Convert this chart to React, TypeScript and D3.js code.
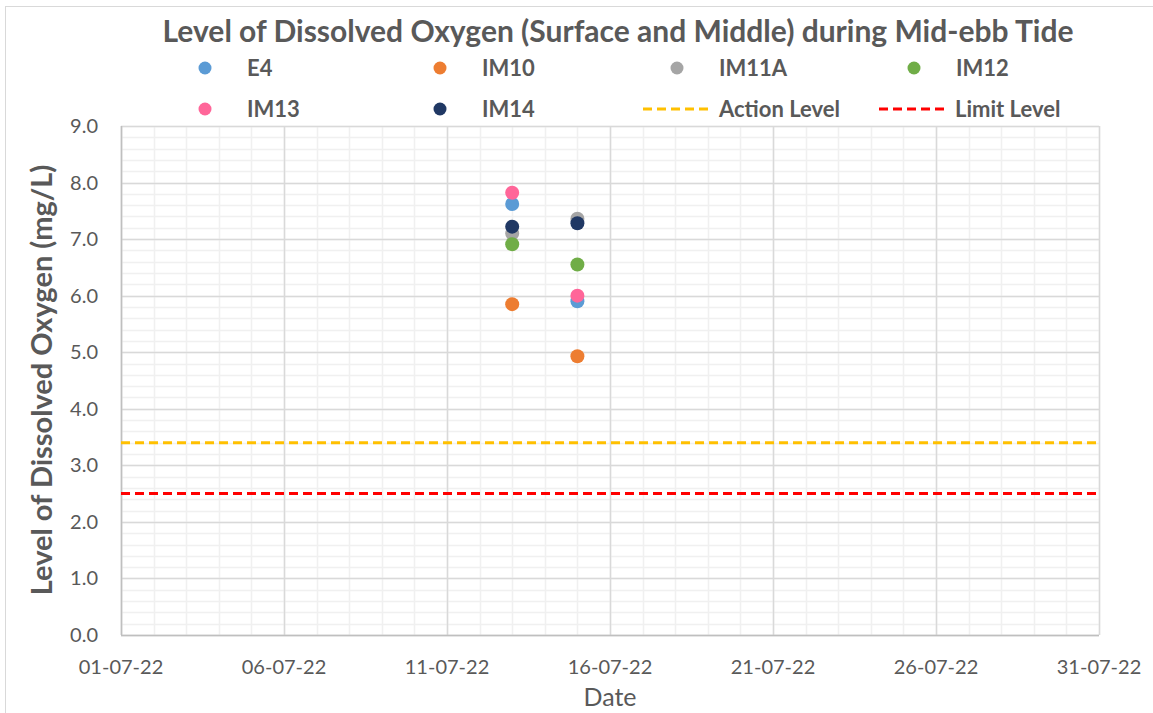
import React, { useRef, useEffect } from "react";
import * as d3 from "d3";

const dates = ["2022-07-13", "2022-07-15"];
const seriesNames = ["E4", "IM10", "IM11A", "IM12", "IM13", "IM14"];
const seriesColors = ["#5B9BD5", "#ED7D31", "#A5A5A5", "#70AD47", "#FF6699", "#203864"];
const e4 = [7.62, 5.9];
const im10 = [5.85, 4.93];
const im11a = [7.1, 7.36];
const im12 = [6.91, 6.55];
const im13 = [7.82, 6.0];
const im14 = [7.22, 7.28];
const seriesValues = [e4, im10, im11a, im12, im13, im14];
const actionLevel = 3.4;
const limitLevel = 2.5;
const yTicks = [0, 1, 2, 3, 4, 5, 6, 7, 8, 9];

const W = 1153;
const H = 713;
const FONT = "Lato, 'Open Sans', sans-serif";
const TXT = "#595959";

const App = () => {
	const svgRef = useRef(null);

	useEffect(() => {
		const svg = d3.select(svgRef.current);
		svg.selectAll("*").remove();

		const left = 121, right = 1099, top = 126, bottom = 635;
		const parse = d3.timeParse("%Y-%m-%d");
		const x = d3
			.scaleTime()
			.domain([parse("2022-07-01"), parse("2022-07-31")])
			.range([left, right]);
		const y = d3.scaleLinear().domain([0, 9]).range([bottom, top]);

		// outer chart border
		svg.append("rect")
			.attr("x", 5.5).attr("y", 6.5)
			.attr("width", W).attr("height", H)
			.attr("fill", "white")
			.attr("stroke", "#D9D9D9");

		const grid = svg.append("g");
		// minor horizontal
		d3.range(0, 9.01, 0.2).forEach((v) => {
			grid.append("line")
				.attr("x1", left).attr("x2", right)
				.attr("y1", Math.round(y(v)) + 0.5).attr("y2", Math.round(y(v)) + 0.5)
				.attr("stroke", "#F0F0F0").attr("stroke-width", 1.5);
		});
		// minor vertical (daily)
		x.ticks(d3.timeDay.every(1)).forEach((d) => {
			grid.append("line")
				.attr("y1", top).attr("y2", bottom)
				.attr("x1", Math.round(x(d)) + 0.5).attr("x2", Math.round(x(d)) + 0.5)
				.attr("stroke", "#F0F0F0").attr("stroke-width", 1.5);
		});
		// major horizontal
		yTicks.forEach((v) => {
			grid.append("line")
				.attr("x1", left).attr("x2", right)
				.attr("y1", Math.round(y(v)) + 0.5).attr("y2", Math.round(y(v)) + 0.5)
				.attr("stroke", "#D9D9D9").attr("stroke-width", 1.5);
		});
		// major vertical every 5 days
		const majorDates = d3.range(1, 32, 5).map((d) => new Date(2022, 6, d));
		majorDates.forEach((d) => {
			grid.append("line")
				.attr("y1", top).attr("y2", bottom)
				.attr("x1", Math.round(x(d)) + 0.5).attr("x2", Math.round(x(d)) + 0.5)
				.attr("stroke", "#D9D9D9").attr("stroke-width", 1.5);
		});
		// axis lines
		grid.append("line")
			.attr("x1", left).attr("x2", right)
			.attr("y1", bottom + 0.5).attr("y2", bottom + 0.5)
			.attr("stroke", "#BFBFBF").attr("stroke-width", 1.5);
		grid.append("line")
			.attr("x1", left + 0.5).attr("x2", left + 0.5)
			.attr("y1", top).attr("y2", bottom)
			.attr("stroke", "#BFBFBF").attr("stroke-width", 1.5);

		// tick labels
		const fmtY = d3.format(".1f");
		svg.append("g")
			.selectAll("text")
			.data(yTicks)
			.join("text")
			.attr("x", 98)
			.attr("y", (d) => y(d))
			.attr("dy", "0.35em")
			.attr("text-anchor", "end")
			.attr("font-family", FONT)
			.attr("font-size", 20)
			.attr("fill", TXT)
			.text((d) => fmtY(d));

		const fmtX = d3.timeFormat("%d-%m-%y");
		svg.append("g")
			.selectAll("text")
			.data(majorDates)
			.join("text")
			.attr("x", (d) => x(d))
			.attr("y", 674)
			.attr("text-anchor", "middle")
			.attr("font-family", FONT)
			.attr("font-size", 20)
			.attr("fill", TXT)
			.text((d) => fmtX(d));

		// axis titles
		svg.append("text")
			.attr("x", 610).attr("y", 706)
			.attr("text-anchor", "middle")
			.attr("font-family", FONT).attr("font-size", 25)
			.attr("fill", TXT)
			.text("Date");
		svg.append("text")
			.attr("transform", `translate(52,${(155 + 605) / 2}) rotate(-90)`)
			.attr("text-anchor", "middle")
			.attr("font-family", FONT).attr("font-size", 29).attr("font-weight", "bold")
			.attr("fill", TXT)
			.text("Level of Dissolved Oxygen (mg/L)");

		// title
		svg.append("text")
			.attr("x", 618).attr("y", 42)
			.attr("text-anchor", "middle")
			.attr("font-family", FONT).attr("font-size", 30).attr("font-weight", "bold")
			.attr("fill", TXT)
			.text("Level of Dissolved Oxygen (Surface and Middle) during Mid-ebb Tide");

		// threshold lines
		const thr = [
			{ v: actionLevel, c: "#FFC000", name: "Action Level" },
			{ v: limitLevel, c: "#FF0000", name: "Limit Level" },
		];
		thr.forEach((t) => {
			svg.append("line")
				.attr("x1", left).attr("x2", right)
				.attr("y1", y(t.v)).attr("y2", y(t.v))
				.attr("stroke", t.c).attr("stroke-width", 3)
				.attr("stroke-dasharray", "9,5");
		});

		// points
		seriesValues.forEach((vals, i) => {
			svg.append("g")
				.selectAll("circle")
				.data(vals)
				.join("circle")
				.attr("cx", (d, j) => x(parse(dates[j])))
				.attr("cy", (d) => y(d))
				.attr("r", 7)
				.attr("fill", seriesColors[i]);
		});

		// legend
		const legendPos = [
			[205, 68], [440, 68], [677, 68], [914, 68],
			[205, 109], [440, 109],
		];
		const lg = svg.append("g")
			.attr("font-family", FONT).attr("font-size", 22).attr("font-weight", "bold")
			.attr("fill", TXT);
		seriesNames.forEach((n, i) => {
			const [lx, ly] = legendPos[i];
			lg.append("circle").attr("cx", lx).attr("cy", ly).attr("r", 6.5).attr("fill", seriesColors[i]);
			lg.append("text").attr("x", lx + 42).attr("y", ly).attr("dy", "0.35em").text(n);
		});
		const thrLegend = [[643, 109], [879, 109]];
		thr.forEach((t, i) => {
			const [lx, ly] = thrLegend[i];
			lg.append("line")
				.attr("x1", lx).attr("x2", lx + 68)
				.attr("y1", ly).attr("y2", ly)
				.attr("stroke", t.c).attr("stroke-width", 3)
				.attr("stroke-dasharray", "9,5");
			lg.append("text").attr("x", lx + 76).attr("y", ly).attr("dy", "0.35em").text(t.name);
		});
	}, []);

	return (
		<svg
			ref={svgRef}
			width={W}
			height={H}
			style={{ position: "absolute", top: 0, left: 0, display: "block" }}
		/>
	);
};

export default App;
